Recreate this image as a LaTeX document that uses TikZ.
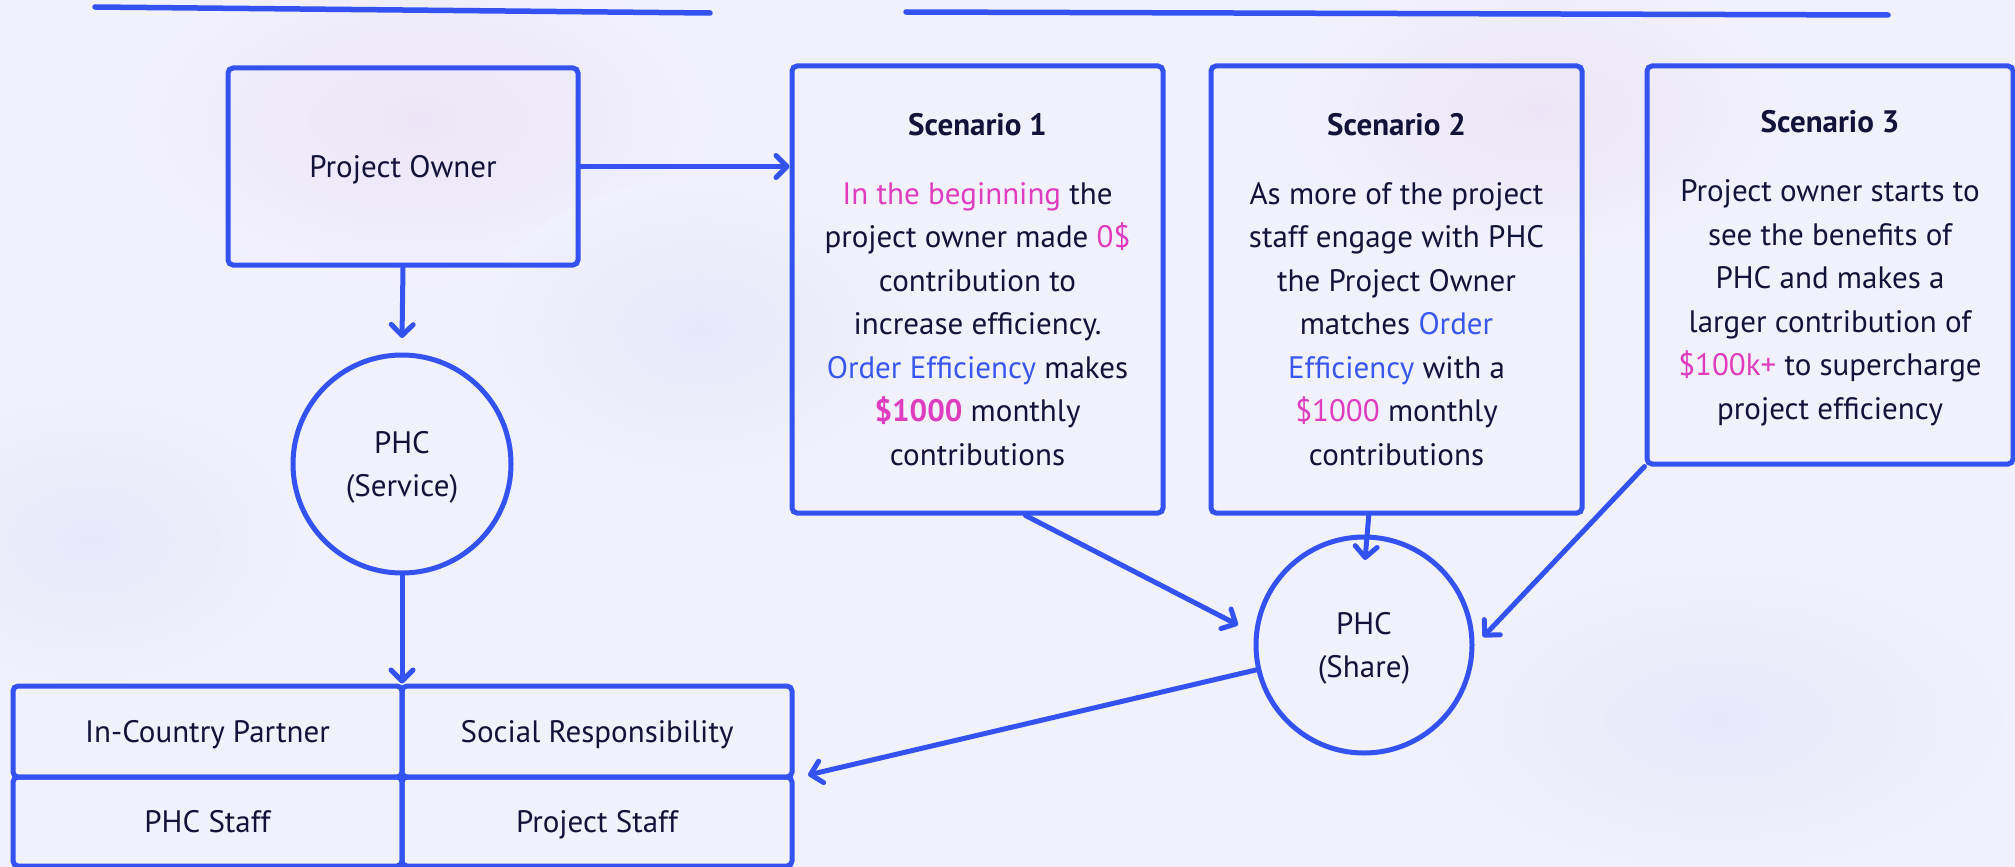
\documentclass[tikz,border=0pt]{standalone}
\usepackage{fontspec}
\setmainfont{PT Sans}
\usetikzlibrary{arrows.meta}
\definecolor{bg}{HTML}{F1F1FB}
\definecolor{strokeblue}{HTML}{3451F2}
\definecolor{ink}{HTML}{12123A}
\definecolor{pinkt}{HTML}{DF3DBF}
\definecolor{bluet}{HTML}{3A56F0}
\definecolor{blobpink}{HTML}{EDE5F7}
\definecolor{blobblue}{HTML}{E6E8FA}
\begin{document}
\begin{tikzpicture}[x=1pt,y=-1pt,
  txt/.style={text=ink, align=center, font=\fontsize{31}{43.5}\selectfont},
  box/.style={txt, draw=strokeblue, line width=5pt, rounded corners=5pt, inner sep=0pt},
  circ/.style={txt, draw=strokeblue, line width=5pt, circle, inner sep=0pt, text depth=0pt},
  conn/.style={draw=strokeblue, line width=5pt, line cap=round,
    -{Straight Barb[length=11pt,width=22pt,line cap=round,line join=round]}},
  topline/.style={draw=strokeblue, line width=5.5pt, line cap=round}]
% background
\fill[bg] (0,0) rectangle (2015,867);
\useasboundingbox (0,0) rectangle (2015,867);
\shade[inner color=blobpink, outer color=bg] (420,120) ellipse [x radius=300pt, y radius=170pt];
\shade[inner color=blobpink, outer color=bg] (1540,110) ellipse [x radius=260pt, y radius=150pt];
\shade[inner color=blobblue, outer color=bg] (90,540) ellipse [x radius=220pt, y radius=150pt];
\shade[inner color=blobblue, outer color=bg] (1720,720) ellipse [x radius=300pt, y radius=160pt];
\shade[inner color=blobblue, outer color=bg] (700,330) ellipse [x radius=220pt, y radius=150pt];
% top lines
\draw[topline] (95,7) -- (710,13);
\draw[topline] (906,12) -- (1888,15);
% nodes
\node[box, text depth=0pt, minimum width=350pt, minimum height=197pt] (po) at (403,166.5) {Project Owner};
\node[box, minimum width=371pt, minimum height=447pt] (s1) at (977.5,289.5)
  {\textbf{Scenario 1}\\[25pt]
   \textcolor{pinkt}{In the beginning} the\\
   project owner made \textcolor{pinkt}{0\$}\\
   contribution to\\
   increase efficiency.\\
   \textcolor{bluet}{Order Efficiency} makes\\
   \textcolor{pinkt}{\textbf{\$1000}} monthly\\
   contributions};
\node[box, minimum width=371pt, minimum height=447pt] (s2) at (1396.5,289.5)
  {\textbf{Scenario 2}\\[25pt]
   As more of the project\\
   staff engage with PHC\\
   the Project Owner\\
   matches \textcolor{bluet}{Order}\\
   \textcolor{bluet}{Efficiency} with a\\
   \textcolor{pinkt}{\$1000} monthly\\
   contributions};
\node[box, text depth=0pt, minimum width=366pt, minimum height=398pt] (s3) at (1830,265)
  {\textbf{Scenario 3}\\[25.5pt]
   Project owner starts to\\
   see the benefits of\\
   PHC and makes a\\
   larger contribution of\\
   \textcolor{pinkt}{\$100k+} to supercharge\\
   project efficiency};
\node[circ, minimum size=218pt] (phcs) at (402,464) {PHC\\(Service)};
\node[circ, minimum size=216pt] (phsh) at (1364,645) {PHC\\(Share)};
\node[box, text depth=0pt, minimum width=389pt, minimum height=91pt] (c1) at (207.5,731.5) {In-Country Partner};
\node[box, text depth=0pt, minimum width=390pt, minimum height=91pt] (c2) at (597,731.5) {Social Responsibility};
\node[box, text depth=0pt, minimum width=389pt, minimum height=89pt] (c3) at (207.5,821.5) {PHC Staff};
\node[box, text depth=0pt, minimum width=390pt, minimum height=89pt] (c4) at (597,821.5) {Project Staff};
% free arrow ends
\coordinate (t0) at (402,338);
\coordinate (t1) at (1238,625);
\coordinate (t2) at (1365,560);
\coordinate (t3) at (1483,637);
\coordinate (t4) at (808,775);
% connectors
\draw[conn] (po.east) -- (po.east -| s1.west);
\draw[conn] (po.south) -- (t0);
\draw[conn] (phcs.south) -- (phcs.south |- c1.north);
\draw[conn] (s1.282.7) -- (t1);
\draw[conn] (s2.263.2) -- (t2);
\draw[conn] (s3.south west) -- (t3);
\draw[conn] (phsh.193.3) -- (t4);
\end{tikzpicture}
\end{document}
